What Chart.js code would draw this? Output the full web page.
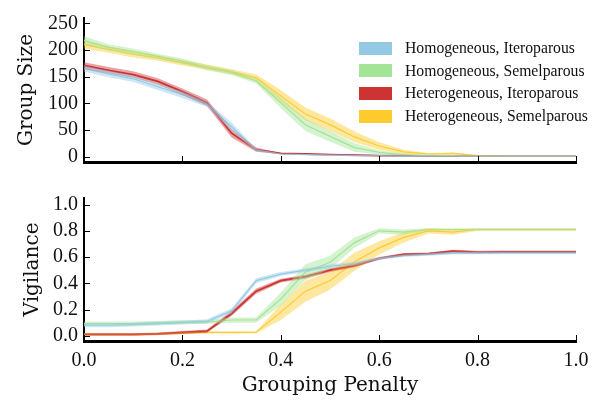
<!DOCTYPE html>
<html>
<head>
<meta charset="utf-8">
<script src="https://cdn.jsdelivr.net/npm/chart.js@4.4.1/dist/chart.umd.min.js"></script>
<style>
  body { margin: 0; background: #fff; }
  #wrap { position: relative; width: 599px; height: 400px; }
  canvas { position: absolute; left: 0; }
  #top { top: 0; }
  #bottom { top: 180px; }
  #legend { position: absolute; left: 359px; top: 37px; font-family: "Liberation Serif", serif; font-size: 15.7px; color: #111; }
  .row { display: flex; align-items: center; height: 22.6px; }
  .sw { width: 33px; height: 13px; margin-right: 13px; }
</style>
</head>
<body>
<div id="wrap">
  <canvas id="top" width="599" height="180"></canvas>
  <canvas id="bottom" width="599" height="220"></canvas>
  <div id="legend"></div>
</div>
<script>
// grouping penalty values (x)
const penalty = [0, 0.05, 0.1, 0.15, 0.2, 0.25, 0.3, 0.35, 0.4, 0.45, 0.5,
                 0.55, 0.6, 0.65, 0.7, 0.75, 0.8, 0.85, 0.9, 0.95, 1.0];

const seriesNames = ['Homogeneous, Iteroparous', 'Homogeneous, Semelparous',
                     'Heterogeneous, Iteroparous', 'Heterogeneous, Semelparous'];
const seriesColors = ['#94c9e6', '#a4e497', '#cd3333', '#fdcb2e'];

// group size (top panel)
const sizeHomIter   = [165, 155, 146, 131, 116, 98, 56, 12, 5, 4, 3, 2, 2, 1, 1, 1, 1, 1, 1, 1, 1];
const sizeHomSemel  = [218, 205, 197, 188, 179, 167, 158, 142, 101, 60, 38, 17, 8, 4, 2, 2, 1, 1, 1, 1, 1];
const sizeHetIter   = [171, 162, 154, 141, 122, 101, 44, 13, 6, 5, 4, 3, 2, 2, 1, 1, 1, 1, 1, 1, 1];
const sizeHetSemel  = [210, 201, 192, 185, 176, 168, 159, 148, 114, 80, 60, 37, 20, 9, 5, 6, 2, 1, 1, 1, 1];
// half width of shaded band
const sizeHomIterErr  = [6, 6, 6, 6, 6, 5, 8, 3, 1, 1, 1, 1, 1, 1, 1, 1, 1, 1, 1, 1, 1];
const sizeHomSemelErr = [8, 6, 6, 5, 5, 5, 5, 5, 10, 12, 10, 8, 4, 2, 1, 1, 1, 1, 1, 1, 1];
const sizeHetIterErr  = [6, 6, 6, 6, 6, 6, 8, 4, 1, 1, 1, 1, 1, 1, 1, 1, 1, 1, 1, 1, 1];
const sizeHetSemelErr = [7, 6, 6, 5, 5, 5, 5, 6, 11, 12, 12, 10, 7, 4, 2, 2, 1, 1, 1, 1, 1];

// vigilance (bottom panel)
const vigHomIter  = [0.08, 0.08, 0.085, 0.093, 0.10, 0.11, 0.19, 0.42, 0.47, 0.50, 0.53, 0.55, 0.59, 0.61, 0.62, 0.63, 0.632, 0.632, 0.632, 0.632, 0.632];
const vigHomSemel = [0.093, 0.093, 0.093, 0.098, 0.105, 0.105, 0.12, 0.12, 0.28, 0.485, 0.56, 0.71, 0.80, 0.79, 0.81, 0.81, 0.81, 0.81, 0.81, 0.81, 0.81];
const vigHetIter  = [0.01, 0.01, 0.01, 0.015, 0.025, 0.035, 0.17, 0.34, 0.42, 0.45, 0.50, 0.535, 0.59, 0.62, 0.625, 0.645, 0.637, 0.64, 0.64, 0.64, 0.64];
const vigHetSemel = [0.01, 0.01, 0.01, 0.012, 0.02, 0.025, 0.025, 0.027, 0.18, 0.34, 0.42, 0.565, 0.67, 0.75, 0.80, 0.79, 0.81, 0.81, 0.81, 0.81, 0.81];
const vigHomIterErr  = [0.015, 0.015, 0.015, 0.015, 0.015, 0.015, 0.02, 0.02, 0.015, 0.015, 0.015, 0.015, 0.01, 0.01, 0.01, 0.01, 0.01, 0.01, 0.01, 0.01, 0.01];
const vigHomSemelErr = [0.015, 0.015, 0.015, 0.015, 0.015, 0.015, 0.02, 0.02, 0.05, 0.06, 0.05, 0.04, 0.02, 0.02, 0.01, 0.01, 0.01, 0.01, 0.01, 0.01, 0.01];
const vigHetIterErr  = [0.01, 0.01, 0.01, 0.01, 0.012, 0.012, 0.02, 0.02, 0.015, 0.015, 0.015, 0.012, 0.01, 0.01, 0.01, 0.01, 0.01, 0.01, 0.01, 0.01, 0.01];
const vigHetSemelErr = [0.008, 0.008, 0.008, 0.008, 0.008, 0.008, 0.008, 0.008, 0.06, 0.08, 0.07, 0.07, 0.05, 0.04, 0.02, 0.02, 0.01, 0.01, 0.01, 0.01, 0.01];

// tick labels
const penaltyTicks = [0, 0.2, 0.4, 0.6, 0.8, 1.0];
const sizeTicks = [0, 50, 100, 150, 200, 250];
const vigTicks = [0, 0.2, 0.4, 0.6, 0.8, 1.0];

const serif = 'Liberation Serif';
const titleFont = 'DejaVu Serif';

function hexA(hex, a) {
    const n = parseInt(hex.slice(1), 16);
    return `rgba(${(n >> 16) & 255}, ${(n >> 8) & 255}, ${n & 255}, ${a})`;
}

function buildDatasets(means, errs) {
    const sets = [];
    means.forEach((m, i) => {
        const c = seriesColors[i];
        const e = errs[i];
        sets.push({ data: penalty.map((x, k) => ({ x, y: m[k] + e[k] })), borderWidth: 0, pointRadius: 0,
                    fill: '+1', backgroundColor: hexA(c, 0.45), borderColor: 'transparent' });
        sets.push({ data: penalty.map((x, k) => ({ x, y: m[k] - e[k] })), borderWidth: 0, pointRadius: 0,
                    fill: false, borderColor: 'transparent' });
    });
    means.forEach((m, i) => {
        sets.push({ data: penalty.map((x, k) => ({ x, y: m[k] })), borderColor: seriesColors[i],
                    borderWidth: i === 2 ? 1.8 : 1.2, pointRadius: 0, fill: false });
    });
    return sets;
}

// inward tick marks, matplotlib style
const innerTicks = {
    id: 'innerTicks',
    afterDraw(chart) {
        const ctx = chart.ctx;
        const a = chart.chartArea;
        ctx.save();
        ctx.strokeStyle = '#000';
        ctx.lineWidth = 1;
        chart.scales.x.ticks.forEach(t => {
            const px = Math.round(chart.scales.x.getPixelForValue(t.value)) + 0.5;
            ctx.beginPath(); ctx.moveTo(px, a.bottom); ctx.lineTo(px, a.bottom - 6); ctx.stroke();
        });
        chart.scales.y.ticks.forEach(t => {
            const py = Math.round(chart.scales.y.getPixelForValue(t.value)) + 0.5;
            ctx.beginPath(); ctx.moveTo(a.left, py); ctx.lineTo(a.left + 6, py); ctx.stroke();
        });
        ctx.restore();
    }
};

function makeChart(id, datasets, opts) {
    return new Chart(document.getElementById(id), {
        type: 'line',
        data: { datasets },
        plugins: [innerTicks],
        options: {
            responsive: false,
            animation: false,
            layout: { padding: { top: opts.padTop, right: 23, left: 0, bottom: 0 } },
            plugins: { legend: { display: false }, tooltip: { enabled: false } },
            scales: {
                x: {
                    type: 'linear', min: 0, max: 1,
                    afterBuildTicks: s => { s.ticks = penaltyTicks.map(v => ({ value: v })); },
                    afterFit: s => { s.height = opts.xHeight; },
                    grid: { display: false, drawTicks: false },
                    border: { display: true, color: '#000', width: 3 },
                    ticks: {
                        display: opts.xLabels, padding: 8, color: '#111',
                        font: { family: serif, size: 20 },
                        callback: v => v.toFixed(1)
                    },
                    title: {
                        display: opts.xLabels, text: 'Grouping Penalty', color: '#111',
                        font: { family: titleFont, size: 20 }, padding: { top: 0, bottom: 2 }
                    }
                },
                y: {
                    type: 'linear', min: opts.yMin, max: opts.yMax,
                    afterBuildTicks: s => { s.ticks = opts.yTicks.map(v => ({ value: v })); },
                    afterFit: s => { s.width = 84; },
                    grid: { display: false, drawTicks: false },
                    border: { display: true, color: '#000', width: 2 },
                    ticks: {
                        padding: 6, color: '#111',
                        font: { family: serif, size: 20 },
                        callback: opts.yFormat
                    },
                    title: {
                        display: true, text: opts.yTitle, color: '#111',
                        font: { family: titleFont, size: 20 }, padding: { top: opts.yTitlePad, bottom: 0 }
                    }
                }
            }
        }
    });
}

makeChart('top',
    buildDatasets([sizeHomIter, sizeHomSemel, sizeHetIter, sizeHetSemel],
                  [sizeHomIterErr, sizeHomSemelErr, sizeHetIterErr, sizeHetSemelErr]),
    { padTop: 12, xHeight: 18, xLabels: false, yMin: -10, yMax: 260, yTicks: sizeTicks,
      yFormat: v => String(v), yTitle: 'Group Size', yTitlePad: 15 });

makeChart('bottom',
    buildDatasets([vigHomIter, vigHomSemel, vigHetIter, vigHetSemel],
                  [vigHomIterErr, vigHomSemelErr, vigHetIterErr, vigHetSemelErr]),
    { padTop: 13, xHeight: 59, xLabels: true, yMin: -0.04, yMax: 1.05, yTicks: vigTicks,
      yFormat: v => v.toFixed(1), yTitle: 'Vigilance', yTitlePad: 21 });

// legend
const legend = document.getElementById('legend');
seriesNames.forEach((name, i) => {
    const row = document.createElement('div');
    row.className = 'row';
    row.innerHTML = `<div class="sw" style="background:${seriesColors[i]}"></div><span>${name}</span>`;
    legend.appendChild(row);
});
</script>
</body>
</html>
